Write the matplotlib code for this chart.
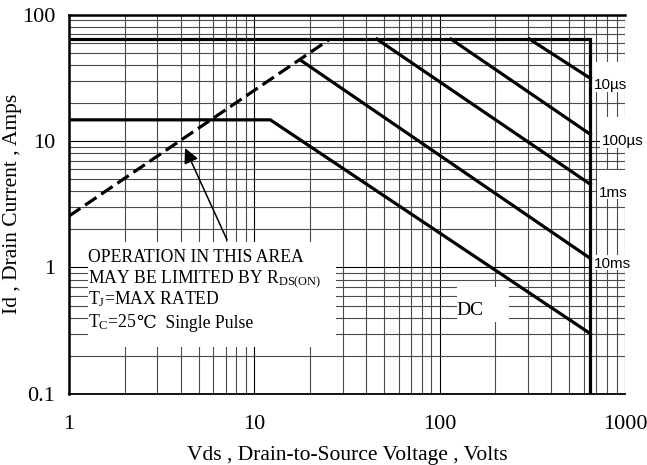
import matplotlib
matplotlib.use('Agg')
import matplotlib.pyplot as plt
from matplotlib import ticker
from matplotlib.patches import Rectangle

plt.rcParams['font.family'] = ['Liberation Serif', 'DejaVu Serif']
plt.rcParams['mathtext.fontset'] = 'custom'
plt.rcParams['mathtext.rm'] = 'Liberation Serif'
plt.rcParams['mathtext.it'] = 'Liberation Serif:italic'
plt.rcParams['mathtext.bf'] = 'Liberation Serif:bold'

# safe operating area limits (Vds in volts, Id in amps)
i_pulse_max = 64.0
v_dss = 650.0

rds_v = [1.0, 25.6]
rds_i = [2.55, 64.0]

dc_v = [1.0, 12.2, 650.0]
dc_i = [14.7, 14.7, 0.30]

ms10_v = [17.7, 650.0]
ms10_i = [43.7, 1.18]

ms1_v = [45.8, 650.0]
ms1_i = [64.0, 4.55]

us100_v = [115.0, 650.0]
us100_i = [64.0, 11.3]

us10_v = [305.0, 650.0]
us10_i = [64.0, 31.3]

x_ticks = [1, 10, 100, 1000]
y_ticks = [0.1, 1, 10, 100]

fig = plt.figure(figsize=(6.47, 4.65), dpi=100)
ax = fig.add_axes([0.1066, 0.1527, 0.8594, 0.8161])
ax.set_xscale('log')
ax.set_yscale('log')
ax.set_xlim(1, 1000)
ax.set_ylim(0.1, 100)

ax.grid(which='major', color='black', lw=0.8, zorder=0)
ax.grid(which='minor', color='#4a4a4a', lw=0.8, zorder=0)
ax.set_axisbelow(True)
ax.tick_params(which='both', length=0)
ax.tick_params(axis='x', pad=15, labelsize=16)
ax.tick_params(axis='y', pad=10, labelsize=16)
ax.xaxis.set_major_locator(ticker.FixedLocator(x_ticks))
ax.yaxis.set_major_locator(ticker.FixedLocator(y_ticks))
fmt = ticker.FuncFormatter(lambda v, _: f'{v:g}')
ax.xaxis.set_major_formatter(fmt)
ax.yaxis.set_major_formatter(fmt)
ax.xaxis.set_minor_formatter(ticker.NullFormatter())
ax.yaxis.set_minor_formatter(ticker.NullFormatter())

ax.spines['right'].set_visible(False)
for side in ['left', 'top']:
    ax.spines[side].set_linewidth(1.8)
ax.spines['bottom'].set_linewidth(1.3)

# white patches that blank the grid behind the labels
blank = [
    (0.034, 0.124, 0.446, 0.277),   # note block
    (0.698, 0.190, 0.0935, 0.092),  # DC
    (0.939, 0.796, 0.0665, 0.079),  # 10us
    (0.955, 0.648, 0.050, 0.082),   # 100us
    (0.950, 0.514, 0.056, 0.076),   # 1ms
    (0.939, 0.327, 0.0665, 0.040),  # 10ms
]
for bx, by, bw, bh in blank:
    ax.add_patch(Rectangle((bx, by), bw, bh, transform=ax.transAxes,
                           facecolor='white', edgecolor='none', zorder=1,
                           clip_on=False))

lw = 2.3
ax.plot([1, v_dss, v_dss], [i_pulse_max, i_pulse_max, 0.1],
        color='black', lw=lw, zorder=3, solid_joinstyle='miter')
ax.plot(rds_v, rds_i, color='black', lw=lw, ls=(0, (4.3, 1.8)), zorder=3)
for v, i in [(dc_v, dc_i), (ms10_v, ms10_i), (ms1_v, ms1_i),
             (us100_v, us100_i), (us10_v, us10_i)]:
    ax.plot(v, i, color='black', lw=lw, zorder=3)

# pulse width labels at the right edge
sans = ['Liberation Sans', 'DejaVu Sans']
pulse_labels = [('10µs', us10_i[-1], 2.2, -5),
                ('100µs', us100_i[-1], 8.6, -4.5),
                ('1ms', ms1_i[-1], 6.5, -6),
                ('10ms', ms10_i[-1], 2.2, -4)]
for text, i_end, dx, dy in pulse_labels:
    ax.annotate(text, xy=(v_dss, i_end), xytext=(dx, dy),
                textcoords='offset points', ha='left', va='center',
                fontsize=11, family=sans, zorder=4, annotation_clip=False)

ax.text(0.721, 0.221, 'DC', transform=ax.transAxes,
        ha='center', va='center', fontsize=14, zorder=4)

note_y = [0.349, 0.294, 0.236, 0.175]
note = ['OPERATION IN THIS AREA',
        r'MAY BE LIMITED BY R$_{\mathrm{DS(ON)}}$',
        r'T$_{\mathrm{J}}$=MAX RATED',
        r'T$_{\mathrm{C}}$=25']
for y, line in zip(note_y, note):
    last = ax.text(0.035, y, line, transform=ax.transAxes, ha='left',
                   va='baseline', fontsize=12.7, zorder=4)

# the degree-Celsius sign needs a font fallback, so it goes in its own text
fig.canvas.draw()
bb = last.get_window_extent()
x_end = ax.transAxes.inverted().transform((bb.x1, bb.y0))[0]
ax.text(x_end, note_y[-1], '\u2103  Single Pulse', transform=ax.transAxes,
        ha='left', va='baseline', fontsize=12.7, zorder=4,
        family=['Liberation Serif', 'DejaVu Serif', 'DejaVu Sans'])

ax.annotate('', xy=(4.23, 8.8), xytext=(7.13, 1.65),
            arrowprops=dict(arrowstyle='-|>,head_length=0.6,head_width=0.3',
                            mutation_scale=15, color='black', lw=1.1,
                            shrinkA=0, shrinkB=0),
            zorder=4)

ax.set_xlabel('Vds , Drain-to-Source Voltage , Volts', fontsize=15.5)
ax.set_ylabel('Id , Drain Current , Amps', fontsize=15.5)
ax.xaxis.set_label_coords(0.5, -0.136)
ax.yaxis.set_label_coords(-0.085, 0.5)

fig.savefig('out.png', dpi=100)
